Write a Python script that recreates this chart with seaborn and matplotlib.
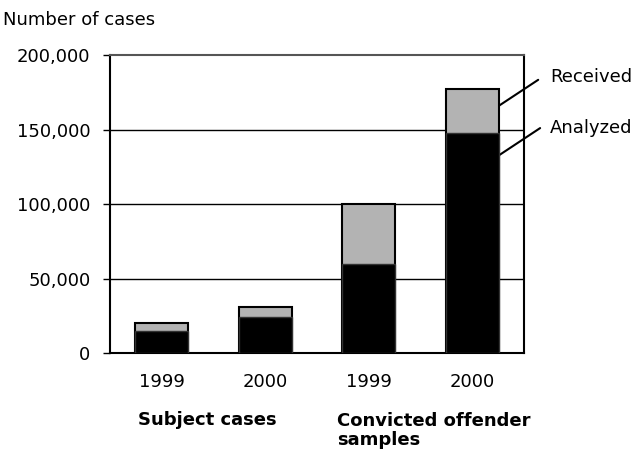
import pandas as pd
import seaborn as sns
import matplotlib.pyplot as plt

# values
categories = ['Subject 1999', 'Subject 2000', 'Offender 1999', 'Offender 2000']
year_labels = ['1999', '2000', '1999', '2000']
received = [20000, 31000, 100000, 177000]
analyzed = [14800, 24400, 60000, 148000]
y_ticks = [0, 50000, 100000, 150000, 200000]
group_labels = ['Subject cases', 'Convicted offender\nsamples']


def main():
    sns.set_theme(style='white', rc={'text.color': 'black', 'xtick.color': 'black',
                                     'ytick.color': 'black', 'axes.labelcolor': 'black'})
    plt.rcParams['font.family'] = ['DejaVu Sans']

    df = pd.DataFrame({'cat': categories, 'received': received, 'analyzed': analyzed})

    fig = plt.figure(figsize=(6.43, 4.51), dpi=100)
    ax = fig.add_axes([0.171, 0.217, 0.644, 0.661])

    # received drawn behind, analyzed in front
    sns.barplot(data=df, x='cat', y='received', color='#b3b3b3', saturation=1,
                width=0.51, edgecolor='black', linewidth=1.5, ax=ax, zorder=3)
    sns.barplot(data=df, x='cat', y='analyzed', color='black', saturation=1,
                width=0.51, edgecolor='#333333', linewidth=1, ax=ax, zorder=4)

    ax.set_xlim(-0.5, 3.5)
    ax.set_ylim(0, 200000)
    ax.set_yticks(y_ticks)
    ax.set_yticklabels([f'{v:,}' for v in y_ticks], fontsize=13)
    ax.set_xticks(range(4))
    ax.set_xticklabels(year_labels, fontsize=13)
    ax.tick_params(axis='x', length=0, pad=14)
    ax.tick_params(axis='y', length=5, width=1, direction='out', left=True, pad=9)
    ax.set_xlabel('')
    ax.set_ylabel('')

    for y in y_ticks[1:-1]:
        ax.axhline(y, color='black', linewidth=1, zorder=1)
    for side in ['left', 'bottom', 'right', 'top']:
        ax.spines[side].set_visible(True)
        ax.spines[side].set_color('black')
        ax.spines[side].set_linewidth(1.5)
    ax.spines['top'].set_color('#555555')

    fig.text(0.005, 0.955, 'Number of cases', fontsize=13, ha='left', va='center')

    fig.text(0.322, 0.069, group_labels[0], fontsize=13, fontweight='bold',
             ha='center', va='center')
    fig.text(0.524, 0.086, group_labels[1], fontsize=13, fontweight='bold',
             ha='left', va='top', linespacing=1.05)

    # leader lines for the series labels
    ax.annotate('', xy=(3.258, 166000), xytext=(0.837, 0.823),
                textcoords='figure fraction', annotation_clip=False,
                arrowprops=dict(arrowstyle='-', color='black', lw=1.5,
                                shrinkA=0, shrinkB=0))
    ax.annotate('', xy=(3.22, 131000), xytext=(0.840, 0.716),
                textcoords='figure fraction', annotation_clip=False,
                arrowprops=dict(arrowstyle='-', color='black', lw=1.5,
                                shrinkA=0, shrinkB=0))
    fig.text(0.855, 0.829, 'Received', fontsize=13, ha='left', va='center')
    fig.text(0.855, 0.716, 'Analyzed', fontsize=13, ha='left', va='center')

    fig.savefig('out.png', dpi=100)
    plt.close(fig)


if __name__ == '__main__':
    main()
